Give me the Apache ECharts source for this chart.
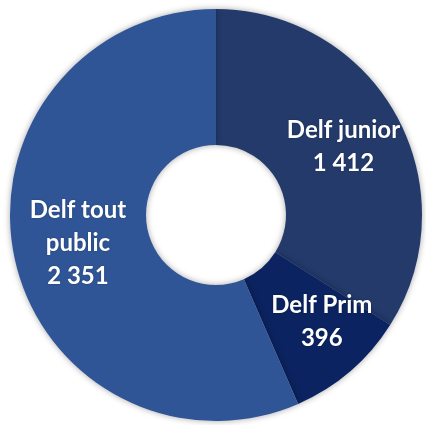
<!DOCTYPE html>
<html><head><meta charset="utf-8">
<script src="https://cdn.jsdelivr.net/npm/echarts@6/dist/echarts.min.js"></script>
<style>html,body{margin:0;padding:0;background:#fff}#c{width:426px;height:425px}</style>
</head><body><div id="c"></div>
<script>
const categories = ['Delf junior', 'Delf Prim', 'Delf tout public'];
const values = [1412, 396, 2351];
const valueLabels = ['1 412', '396', '2 351'];
const labelLines = [['Delf junior'], ['Delf Prim'], ['Delf tout', 'public']];
const colors = ['#233a6b', '#0b2360', '#2f5597'];
const labelPads = [[0, 0, 0, 8], [0, 0, 0, 28], [0, 0, 0, 0]];

const chart = echarts.init(document.getElementById('c'));
chart.setOption({
  animation: false,
  series: [{
    type: 'pie',
    center: [216, 215],
    radius: [70, 206],
    startAngle: 90,
    clockwise: true,
    data: categories.map((c, i) => ({
      name: c, value: values[i],
      itemStyle: { color: colors[i] },
      label: { formatter: labelLines[i].concat([valueLabels[i]]).join('\n'), padding: labelPads[i] }
    })),
    itemStyle: { borderWidth: 0, shadowBlur: 6, shadowColor: 'rgba(0,0,0,0.35)' },
    label: {
      show: true, position: 'inside', color: '#fff',
      fontFamily: 'Lato', fontWeight: 'bold', fontSize: 24, lineHeight: 33,
      textShadowBlur: 2, textShadowColor: 'rgba(0,0,0,0.3)'
    },
    labelLine: { show: false },
    emphasis: { disabled: true }
  }]
});
</script></body></html>
